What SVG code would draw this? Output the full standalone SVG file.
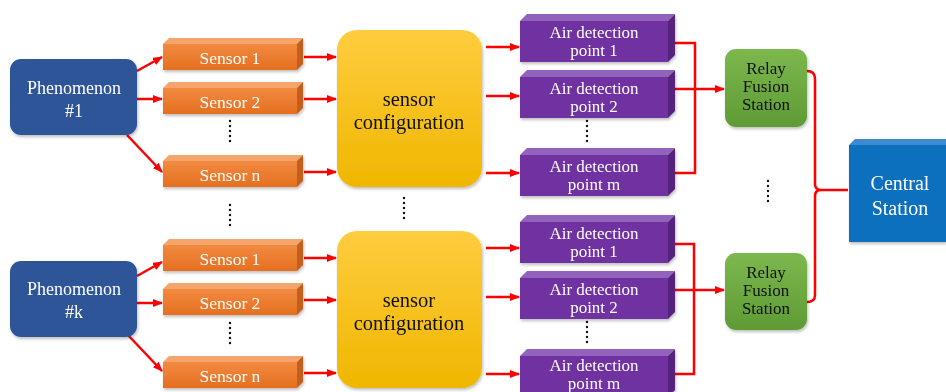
<svg xmlns="http://www.w3.org/2000/svg" width="946" height="392" viewBox="0 0 946 392" font-family="'Liberation Serif', 'DejaVu Serif', serif">
<style>
text{text-anchor:middle}
.w{fill:#ffffff}
.k{fill:#111111}
.ln{stroke:#ff0000;stroke-width:2.5;fill:none}
.dot{stroke:#111;stroke-width:2.4;stroke-linecap:round;stroke-dasharray:0 5;fill:none}
.phen{fill:#2f5597}
.sf{fill:url(#og)}
.st{fill:#f5a56c}
.ss{fill:#c25f1c}
.af{fill:#7030a0}
.at{fill:#9262bd}
.as{fill:#55207d}
</style>
<defs>
<linearGradient id="og" x1="0" y1="0" x2="0" y2="1"><stop offset="0" stop-color="#f28a40"/><stop offset="1" stop-color="#e56f20"/></linearGradient>
<linearGradient id="yg" x1="0" y1="0" x2="0" y2="1"><stop offset="0" stop-color="#ffcc3f"/><stop offset="1" stop-color="#efb700"/></linearGradient>
<linearGradient id="gg" x1="0" y1="0" x2="0" y2="1"><stop offset="0" stop-color="#7cb84d"/><stop offset="1" stop-color="#5f9b35"/></linearGradient>
<filter id="sh" x="-10%" y="-10%" width="130%" height="130%"><feDropShadow dx="1" dy="2" stdDeviation="1.5" flood-color="#000" flood-opacity="0.25"/></filter>
<marker id="ah" markerUnits="userSpaceOnUse" markerWidth="10" markerHeight="8" refX="9" refY="4" orient="auto"><path d="M0,0 L10,4 L0,8 Z" fill="#ff0000"/></marker>
</defs>

<g id="connectors">
<line class="ln" x1="137" y1="71" x2="162" y2="57" marker-end="url(#ah)"/>
<line class="ln" x1="137" y1="99" x2="162" y2="99" marker-end="url(#ah)"/>
<line class="ln" x1="127" y1="135" x2="162" y2="172" marker-end="url(#ah)"/>
<line class="ln" x1="137" y1="276" x2="162" y2="262" marker-end="url(#ah)"/>
<line class="ln" x1="137" y1="303" x2="162" y2="303" marker-end="url(#ah)"/>
<line class="ln" x1="127" y1="334" x2="162" y2="371" marker-end="url(#ah)"/>

<line class="ln" x1="304" y1="57" x2="336" y2="57" marker-end="url(#ah)"/>
<line class="ln" x1="304" y1="99" x2="336" y2="99" marker-end="url(#ah)"/>
<line class="ln" x1="304" y1="172" x2="336" y2="172" marker-end="url(#ah)"/>
<line class="ln" x1="304" y1="258" x2="336" y2="258" marker-end="url(#ah)"/>
<line class="ln" x1="304" y1="300" x2="336" y2="300" marker-end="url(#ah)"/>
<line class="ln" x1="304" y1="373" x2="336" y2="373" marker-end="url(#ah)"/>

<line class="ln" x1="486" y1="47" x2="519" y2="47" marker-end="url(#ah)"/>
<line class="ln" x1="486" y1="96" x2="519" y2="96" marker-end="url(#ah)"/>
<line class="ln" x1="486" y1="173" x2="519" y2="173" marker-end="url(#ah)"/>
<line class="ln" x1="486" y1="248" x2="519" y2="248" marker-end="url(#ah)"/>
<line class="ln" x1="486" y1="297" x2="519" y2="297" marker-end="url(#ah)"/>
<line class="ln" x1="486" y1="374" x2="519" y2="374" marker-end="url(#ah)"/>

<path class="ln" d="M675,43 L695,43 L695,173 L675,173"/>
<line class="ln" x1="675" y1="89" x2="724" y2="89" marker-end="url(#ah)"/>
<path class="ln" d="M675,244 L694,244 L694,374 L675,374"/>
<line class="ln" x1="675" y1="290" x2="724" y2="290" marker-end="url(#ah)"/>

<path class="ln" d="M807,71 Q815,71 815,79 L815,184 Q815,190 821,190 L848,190 M821,190 Q815,190 815,196 L815,295 Q815,302 807,302"/>
</g>

<g id="dots">
<line class="dot" x1="230" y1="121" x2="230" y2="146"/>
<line class="dot" x1="230" y1="205" x2="230" y2="230"/>
<line class="dot" x1="230" y1="323" x2="230" y2="348"/>
<line class="dot" x1="404" y1="198" x2="404" y2="223"/>
<line class="dot" x1="587" y1="121" x2="587" y2="146"/>
<line class="dot" x1="587" y1="322" x2="587" y2="347"/>
<line class="dot" x1="768" y1="181" x2="768" y2="206"/>
</g>

<g id="phenomenon1" filter="url(#sh)">
<rect class="phen" x="10" y="59" width="127" height="76" rx="11"/>
<text class="w" x="74" y="94" font-size="18">Phenomenon</text>
<text class="w" x="74" y="117" font-size="18">#1</text>
</g>
<g id="phenomenonk" filter="url(#sh)">
<rect class="phen" x="10" y="261" width="127" height="76" rx="11"/>
<text class="w" x="74" y="295" font-size="18">Phenomenon</text>
<text class="w" x="74" y="318" font-size="18">#k</text>
</g>

<g id="sensor1a" filter="url(#sh)">
<polygon class="st" points="163,44 169,38 303,38 297,44"/>
<polygon class="ss" points="297,44 303,38 303,64 297,70"/>
<rect class="sf" x="163" y="44" width="134" height="26"/>
<text class="w" x="230" y="64" font-size="17.5">Sensor 1</text>
</g>
<g id="sensor2a" filter="url(#sh)">
<polygon class="st" points="163,88 169,82 303,82 297,88"/>
<polygon class="ss" points="297,88 303,82 303,108 297,114"/>
<rect class="sf" x="163" y="88" width="134" height="26"/>
<text class="w" x="230" y="108" font-size="17.5">Sensor 2</text>
</g>
<g id="sensorna" filter="url(#sh)">
<polygon class="st" points="163,161 169,155 303,155 297,161"/>
<polygon class="ss" points="297,161 303,155 303,181 297,187"/>
<rect class="sf" x="163" y="161" width="134" height="26"/>
<text class="w" x="230" y="181" font-size="17.5">Sensor n</text>
</g>
<g id="sensor1b" filter="url(#sh)">
<polygon class="st" points="163,245 169,239 303,239 297,245"/>
<polygon class="ss" points="297,245 303,239 303,265 297,271"/>
<rect class="sf" x="163" y="245" width="134" height="26"/>
<text class="w" x="230" y="265" font-size="17.5">Sensor 1</text>
</g>
<g id="sensor2b" filter="url(#sh)">
<polygon class="st" points="163,289 169,283 303,283 297,289"/>
<polygon class="ss" points="297,289 303,283 303,309 297,315"/>
<rect class="sf" x="163" y="289" width="134" height="26"/>
<text class="w" x="230" y="309" font-size="17.5">Sensor 2</text>
</g>
<g id="sensornb" filter="url(#sh)">
<polygon class="st" points="163,362 169,356 303,356 297,362"/>
<polygon class="ss" points="297,362 303,356 303,382 297,388"/>
<rect class="sf" x="163" y="362" width="134" height="26"/>
<text class="w" x="230" y="382" font-size="17.5">Sensor n</text>
</g>

<g id="config1" filter="url(#sh)">
<rect x="337" y="30" width="145" height="157" rx="20" fill="url(#yg)"/>
<text class="k" x="409" y="106" font-size="20.5">sensor</text>
<text class="k" x="409" y="129" font-size="20.5">configuration</text>
</g>
<g id="config2" filter="url(#sh)">
<rect x="337" y="231" width="145" height="157" rx="20" fill="url(#yg)"/>
<text class="k" x="409" y="307" font-size="20.5">sensor</text>
<text class="k" x="409" y="330" font-size="20.5">configuration</text>
</g>

<g id="air1a" filter="url(#sh)">
<polygon class="at" points="520,21 527,14 675,14 668,21"/>
<polygon class="as" points="668,21 675,14 675,55 668,62"/>
<rect class="af" x="520" y="21" width="148" height="41"/>
<text class="w" x="594" y="38" font-size="17">Air detection</text>
<text class="w" x="594" y="56" font-size="17">point 1</text>
</g>
<g id="air2a" filter="url(#sh)">
<polygon class="at" points="520,77 527,70 675,70 668,77"/>
<polygon class="as" points="668,77 675,70 675,111 668,118"/>
<rect class="af" x="520" y="77" width="148" height="41"/>
<text class="w" x="594" y="94" font-size="17">Air detection</text>
<text class="w" x="594" y="112" font-size="17">point 2</text>
</g>
<g id="airma" filter="url(#sh)">
<polygon class="at" points="520,155 527,148 675,148 668,155"/>
<polygon class="as" points="668,155 675,148 675,189 668,196"/>
<rect class="af" x="520" y="155" width="148" height="41"/>
<text class="w" x="594" y="172" font-size="17">Air detection</text>
<text class="w" x="594" y="190" font-size="17">point m</text>
</g>
<g id="air1b" filter="url(#sh)">
<polygon class="at" points="520,222 527,215 675,215 668,222"/>
<polygon class="as" points="668,222 675,215 675,256 668,263"/>
<rect class="af" x="520" y="222" width="148" height="41"/>
<text class="w" x="594" y="239" font-size="17">Air detection</text>
<text class="w" x="594" y="257" font-size="17">point 1</text>
</g>
<g id="air2b" filter="url(#sh)">
<polygon class="at" points="520,278 527,271 675,271 668,278"/>
<polygon class="as" points="668,278 675,271 675,312 668,319"/>
<rect class="af" x="520" y="278" width="148" height="41"/>
<text class="w" x="594" y="295" font-size="17">Air detection</text>
<text class="w" x="594" y="313" font-size="17">point 2</text>
</g>
<g id="airmb" filter="url(#sh)">
<polygon class="at" points="520,356 527,349 675,349 668,356"/>
<polygon class="as" points="668,356 675,349 675,390 668,397"/>
<rect class="af" x="520" y="356" width="148" height="41"/>
<text class="w" x="594" y="371" font-size="17">Air detection</text>
<text class="w" x="594" y="389" font-size="17">point m</text>
</g>

<g id="relay1" filter="url(#sh)">
<rect x="725" y="49" width="82" height="78" rx="11" fill="url(#gg)"/>
<text class="k" x="766" y="74" font-size="17">Relay</text>
<text class="k" x="766" y="92" font-size="17">Fusion</text>
<text class="k" x="766" y="110" font-size="17">Station</text>
</g>
<g id="relay2" filter="url(#sh)">
<rect x="725" y="253" width="82" height="77" rx="11" fill="url(#gg)"/>
<text class="k" x="766" y="278" font-size="17">Relay</text>
<text class="k" x="766" y="296" font-size="17">Fusion</text>
<text class="k" x="766" y="314" font-size="17">Station</text>
</g>

<g id="central" filter="url(#sh)">
<polygon points="849,145 855,139 946,139 946,145" fill="#3c8ad0"/>
<rect x="849" y="145" width="97" height="97" fill="#0b6fbf"/>
<text class="w" x="900" y="190" font-size="20">Central</text>
<text class="w" x="900" y="215" font-size="20">Station</text>
</g>
</svg>
